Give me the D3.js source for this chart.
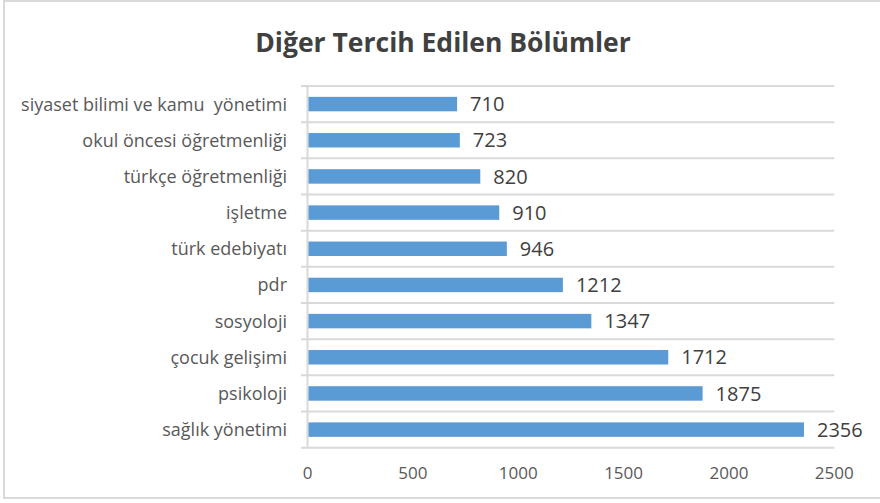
<!DOCTYPE html>
<html>
<head>
<meta charset="utf-8">
<script src="https://cdn.jsdelivr.net/npm/d3@7"></script>
<style>
html,body{margin:0;padding:0;background:#fff;}
svg{display:block;}
text{white-space:pre;}
</style>
</head>
<body>
<svg id="chart" width="880" height="503"></svg>
<script>
const categories = ["siyaset bilimi ve kamu  yönetimi","okul öncesi öğretmenliği","türkçe öğretmenliği","işletme","türk edebiyatı","pdr","sosyoloji","çocuk gelişimi","psikoloji","sağlık yönetimi"];
const values = [710,723,820,910,946,1212,1347,1712,1875,2356];
const xTicks = [0,500,1000,1500,2000,2500];
const title = "Diğer Tercih Edilen Bölümler";

const svg = d3.select("#chart");
const font = "'Open Sans', 'Noto Sans', sans-serif";
const grid = "#D9D9D9";
const textColor = "#595959";

// border
svg.append("rect").attr("x",4).attr("y",1).attr("width",880).attr("height",497)
  .attr("fill","none").attr("stroke",grid).attr("stroke-width",2);

svg.append("text").attr("x",443).attr("y",52).attr("text-anchor","middle")
  .attr("font-family",font).attr("font-weight","bold").attr("font-size",26.5)
  .attr("fill","#404040").text(title);

const x = d3.scaleLinear().domain([0,2500]).range([307.5,834.3]);
const y = d3.scaleBand().domain(categories).range([86,447.7]).paddingInner(0.6).paddingOuter(0.3);
const band = d3.scaleBand().domain(categories).range([86,447.7]);

// separators
const bounds = categories.map(c=>band(c)).concat([band.range()[1]]);
svg.append("g").selectAll("line").data(bounds).join("line")
  .attr("x1",301).attr("x2",x(2500)).attr("y1",d=>d).attr("y2",d=>d)
  .attr("stroke",grid).attr("stroke-width",2);
// axis line
svg.append("line").attr("x1",x(0)).attr("x2",x(0)).attr("y1",86).attr("y2",447.7)
  .attr("stroke",grid).attr("stroke-width",2);

// bars
svg.append("g").selectAll("rect").data(values).join("rect")
  .attr("x",x(0)+1).attr("y",(d,i)=>y(categories[i]))
  .attr("width",d=>x(d)-x(0)-1).attr("height",y.bandwidth())
  .attr("fill","#5B9BD5");

// value labels
svg.append("g").selectAll("text").data(values).join("text")
  .attr("x",d=>x(d)+13).attr("y",(d,i)=>band(categories[i])+band.bandwidth()/2)
  .attr("dy","0.36em").attr("font-family",font).attr("font-size",20)
  .attr("fill","#404040").text(d=>d);

// category labels
svg.append("g").selectAll("text").data(categories).join("text")
  .attr("x",287).attr("y",d=>band(d)+band.bandwidth()/2).attr("dy","0.36em")
  .attr("text-anchor","end").attr("font-family",font).attr("font-size",18)
  .attr("fill",textColor).text(d=>d);

// x tick labels
svg.append("g").selectAll("text").data(xTicks).join("text")
  .attr("x",d=>x(d)).attr("y",473).attr("dy","0.36em").attr("text-anchor","middle")
  .attr("font-family",font).attr("font-size",17).attr("fill",textColor).text(d=>d);
</script>
</body>
</html>
